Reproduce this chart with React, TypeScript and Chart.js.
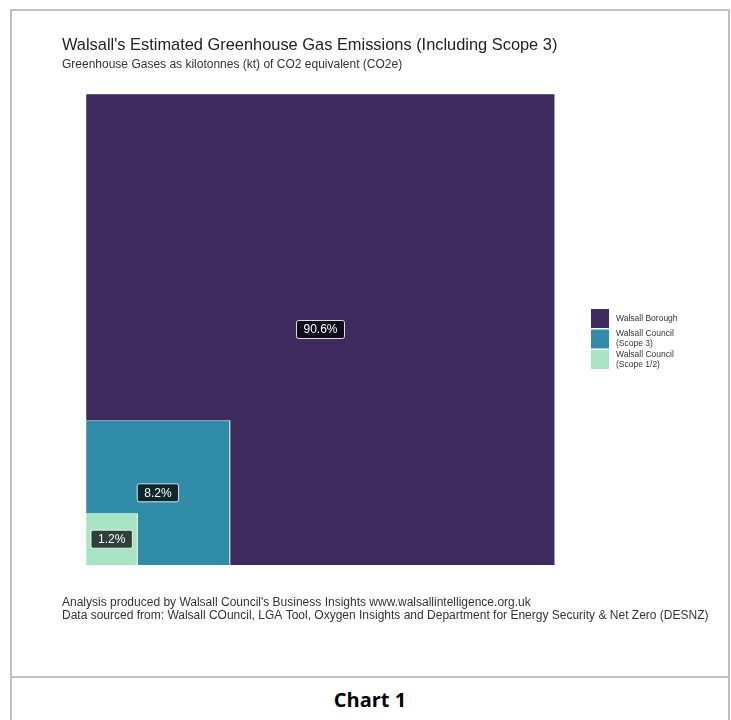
import React, { useEffect, useRef } from 'react';
import { Chart, registerables } from 'chart.js';

Chart.register(...registerables);

const categories = ['Walsall Borough', 'Walsall Council (Scope 3)', 'Walsall Council (Scope 1/2)'];
const legendLines = [['Walsall Borough'], ['Walsall Council', '(Scope 3)'], ['Walsall Council', '(Scope 1/2)']];
const shares = [90.6, 8.2, 1.2];
const shareLabels = ['90.6%', '8.2%', '1.2%'];
const colors = ['#3c2b5c', '#2f8ca8', '#a6e4c4'];

const titleText = "Walsall's Estimated Greenhouse Gas Emissions (Including Scope 3)";
const subtitleText = 'Greenhouse Gases as kilotonnes (kt) of CO2 equivalent (CO2e)';
const captionLines = [
  "Analysis produced by Walsall Council's Business Insights www.walsallintelligence.org.uk",
  'Data sourced from: Walsall COuncil, LGA Tool, Oxygen Insights and Department for Energy Security & Net Zero (DESNZ)',
];
const figureCaption = 'Chart 1';

const FONT = '"Liberation Sans", Arial, sans-serif';

const total = shares.reduce((a, b) => a + b, 0);
const sides = shares.map((_, i) => Math.sqrt(shares.slice(i).reduce((a, b) => a + b, 0) / total));

const decorPlugin = {
  id: 'decor',
  afterDatasetsDraw(chart: any) {
    const { ctx, scales } = chart;
    const xs = scales.x;
    const ys = scales.y;
    ctx.save();
    ctx.font = `12px ${FONT}`;
    ctx.textAlign = 'center';
    ctx.textBaseline = 'middle';
    sides.forEach((s, i) => {
      const px = xs.getPixelForValue(s / 2);
      const py = ys.getPixelForValue(s / 2);
      const t = shareLabels[i];
      const w = ctx.measureText(t).width + 14;
      const h = 18;
      ctx.beginPath();
      ctx.roundRect(px - w / 2, py - h / 2, w, h, 2);
      ctx.fillStyle = 'rgba(0,0,0,0.72)';
      ctx.fill();
      ctx.lineWidth = 1;
      ctx.strokeStyle = 'rgba(255,255,255,0.85)';
      ctx.stroke();
      ctx.fillStyle = '#ffffff';
      ctx.fillText(t, px, py + 0.5);
    });
    ctx.restore();
  },
  afterDraw(chart: any) {
    const { ctx } = chart;
    ctx.save();
    ctx.textAlign = 'left';
    ctx.textBaseline = 'alphabetic';
    ctx.fillStyle = '#222222';
    ctx.font = `16.4px ${FONT}`;
    ctx.fillText(titleText, 62, 50);
    ctx.fillStyle = '#333333';
    ctx.font = `12px ${FONT}`;
    ctx.fillText(subtitleText, 62, 68);
    ctx.font = `12px ${FONT}`;
    ctx.fillText(captionLines[0], 62, 606);
    ctx.fillText(captionLines[1], 62, 619);

    // legend
    const lx = 591;
    const keyH = 19;
    const startY = 309;
    ctx.font = `8.5px ${FONT}`;
    ctx.textBaseline = 'middle';
    categories.forEach((_, i) => {
      const ky = startY + i * (keyH + 1.5);
      ctx.fillStyle = colors[i];
      ctx.fillRect(lx, ky, 18, keyH);
      ctx.fillStyle = '#333333';
      const lines = legendLines[i];
      const lh = 10;
      const cy = ky + keyH / 2;
      lines.forEach((ln, j) => {
        ctx.fillText(ln, lx + 25, cy + (j - (lines.length - 1) / 2) * lh);
      });
    });
    ctx.restore();
  },
};

export default function App() {
  const ref = useRef<HTMLCanvasElement>(null);
  useEffect(() => {
    if (!ref.current) return;
    const chart = new Chart(ref.current, {
      type: 'line',
      data: {
        datasets: sides.map((s, i) => ({
          label: categories[i],
          data: [
            { x: 0, y: 0 },
            { x: 0, y: s },
            { x: s, y: s },
            { x: s, y: 0 },
          ],
          fill: 'origin',
          backgroundColor: colors[i],
          borderColor: 'rgba(255,255,255,0.45)',
          borderWidth: 1,
          pointRadius: 0,
          tension: 0,
          order: sides.length - i,
        })),
      },
      options: {
        animation: false,
        responsive: false,
        maintainAspectRatio: false,
        layout: { padding: { left: 86, top: 94, right: 176, bottom: 111 } },
        scales: {
          x: { type: 'linear', min: 0, max: 1, display: false },
          y: { type: 'linear', min: 0, max: 1, display: false },
        },
        plugins: {
          legend: { display: false },
          tooltip: { enabled: false },
          title: { display: false },
        },
      },
      plugins: [decorPlugin],
    });
    return () => chart.destroy();
  }, []);

  return (
    <>
      <div
        style={{
          position: 'absolute',
          left: 10,
          top: 9,
          width: 720,
          height: 760,
          border: '2px solid #bfbfbf',
          boxSizing: 'border-box',
        }}
      />
      <div
        style={{ position: 'absolute', left: 10, top: 676, width: 720, height: 2, background: '#bfbfbf' }}
      />
      <div
        style={{
          position: 'absolute',
          left: 10,
          top: 686,
          width: 720,
          textAlign: 'center',
          font: `bold 20px "Open Sans", Lato, sans-serif`,
          color: '#000',
        }}
      >
        {figureCaption}
      </div>
      <canvas
        ref={ref}
        width={731}
        height={676}
        style={{ position: 'absolute', left: 0, top: 0, width: 731, height: 676 }}
      />
    </>
  );
}
